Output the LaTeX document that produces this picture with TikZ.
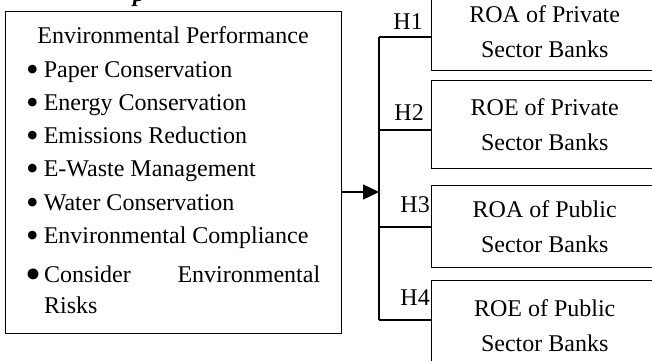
\documentclass[tikz,border=0pt]{standalone}
\usepackage{fontspec}
\setmainfont{Liberation Serif}
\usetikzlibrary{arrows.meta}
\newcommand{\mybul}{\raisebox{-4.2pt}{\scalebox{1.5}{\textbullet}}}
\begin{document}
\begin{tikzpicture}[x=1pt,y=-1pt,
  ln/.style={line width=1.4pt},
  txt/.style={font=\fontsize{24}{33}\selectfont, inner sep=0pt},
  bank/.style={draw, line width=1.4pt, anchor=north west, minimum width=226pt,
    inner sep=0pt, align=center, font=\fontsize{24}{35}\selectfont},
  hlab/.style={txt, anchor=base east}]
\useasboundingbox (0,0) rectangle (652,360);
% cut-off title descender
\node[txt, anchor=base west] (ttl) at (133,1) {\textbf{\textit{p}}};
% left box
\node[draw, ln, anchor=north west, minimum width=336pt, minimum height=322pt, inner sep=0pt] (lb) at (5,11) {};
\node[txt, anchor=base] (t0) at (173,43) {Environmental Performance};
\node[txt, anchor=base west] (t1) at (26,77) {\mybul\hspace{5pt}Paper Conservation};
\node[txt, anchor=base west] (t2) at (26,110) {\mybul\hspace{5pt}Energy Conservation};
\node[txt, anchor=base west] (t3) at (26,143) {\mybul\hspace{5pt}Emissions Reduction};
\node[txt, anchor=base west] (t4) at (26,176) {\mybul\hspace{5pt}E-Waste Management};
\node[txt, anchor=base west] (t5) at (26,210) {\mybul\hspace{5pt}Water Conservation};
\node[txt, anchor=base west] (t6) at (26,243) {\mybul\hspace{5pt}Environmental Compliance};
\node[txt, anchor=base west] (t7) at (25,282) {\makebox[295pt][l]{\raisebox{-7pt}{\scalebox{1.9}{\textbullet}}\hspace{3pt}Consider\hfill Environmental}};
\node[txt, anchor=base west] (t8) at (44,313) {Risks};
% right boxes
\node[bank, minimum height=78pt] (b1) at (431,-8) {ROA of Private\\Sector Banks};
\node[bank, minimum height=88pt] (b2) at (431,80) {ROE of Private\\Sector Banks};
\node[bank, minimum height=82pt] (b3) at (431,185) {ROA of Public\\Sector Banks};
\node[bank, minimum height=90pt] (b4) at (431,280) {ROE of Public\\Sector Banks};
% bus and branches
\coordinate (h1) at (379,37);
\coordinate (h2) at (379,130);
\coordinate (h3) at (379,227);
\coordinate (h4) at (379,320);
\coordinate (a0) at (lb.east |- 0,192);
\draw[ln] (h1) -- (h4);
\draw[ln] (h1) -- (h1 -| b1.west);
\draw[ln] (h2) -- (h2 -| b2.west);
\draw[ln] (h3) -- (h3 -| b3.west);
\draw[ln] (h4) -- (h4 -| b4.west);
\draw[ln, -{Triangle[length=16pt,width=15pt]}] (a0) -- (a0 -| h1);
% labels
\node[hlab] (l1) at (423,29) {H1};
\node[hlab] (l2) at (424,120) {H2};
\node[hlab] (l3) at (430,212) {H3};
\node[hlab] (l4) at (430,305) {H4};
\end{tikzpicture}
\end{document}
